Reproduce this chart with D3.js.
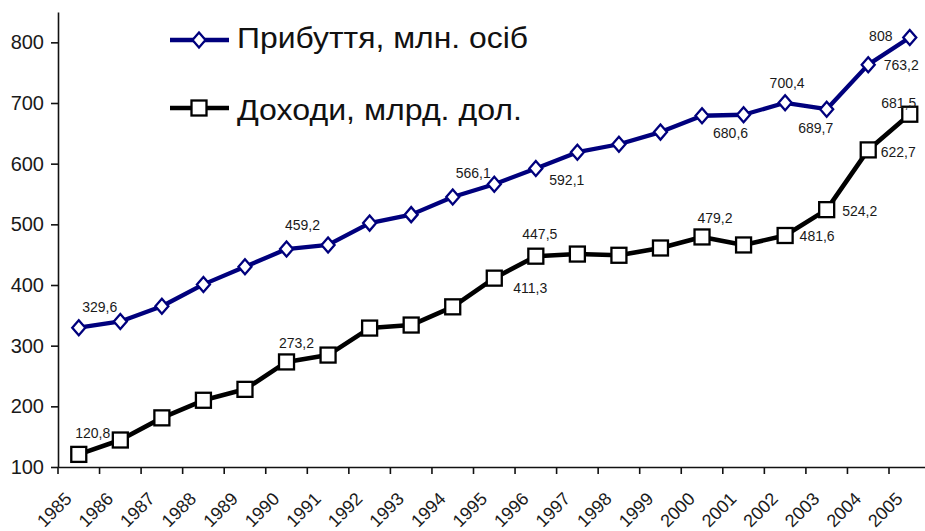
<!DOCTYPE html>
<html><head><meta charset="utf-8">
<script src="https://cdn.jsdelivr.net/npm/d3@7"></script>
<style>html,body{margin:0;padding:0;background:#fff;overflow:hidden}svg{display:block}</style>
</head><body>
<svg id="c" width="925" height="531"></svg>
<script>
const years = ["1985","1986","1987","1988","1989","1990","1991","1992","1993","1994","1995","1996","1997","1998","1999","2000","2001","2002","2003","2004","2005"];
const arrivals = [329.6,340,365,401,430,459.2,466,502,516,545,566.1,592.1,619,632,652,679,680.6,700.4,689.7,763.2,808];
const income = [120.8,144.5,181,210,228,273.2,284.5,329,334,364,411.3,447.5,451,449,461,479.2,466,481.6,524.2,622.7,681.5];
const yTicks = [100,200,300,400,500,600,700,800];
const seriesNames = ["Прибуття, млн. осіб","Доходи, млрд. дол."];
// which points carry a value label: [series index, year index]
const labelled = [[0,0],[0,5],[0,10],[0,11],[0,16],[0,17],[0,18],[0,19],[0,20],
                  [1,0],[1,5],[1,10],[1,11],[1,15],[1,17],[1,18],[1,19],[1,20]];
// label placement offsets (layout only): dx of centre, dy of baseline
const labelOffsets = [[21,-16],[16,-19],[-21,-6],[31,17],[-13,23],[2,-15],[-11,24],[33,5],[-29,4],
                      [14,-16],[10,-14],[36,15],[4,-17],[13,-14],[32,6],[33,6],[30,7],[-11,-6]];

const svg = d3.select("#c");
const x = d3.scaleBand().domain(years).range([58, 58 + 21*41.55]).padding(0);
const y = d3.scaleLinear().domain([100, 850]).range([467, 12]);
const cx = d => x(d) + x.bandwidth()/2;
const fmt = v => String(v).replace(".", ",");
const blue = "#00007d";
const FONT = "Liberation Sans, Arial, sans-serif";

// axes
const yAxis = svg.append("g").attr("transform","translate(58,0)")
  .call(d3.axisLeft(y).tickValues(yTicks).tickSize(7).tickSizeOuter(0).tickPadding(7));
yAxis.select(".domain").attr("stroke","#111").attr("stroke-width",1.6);
yAxis.selectAll(".tick line").attr("stroke","#111").attr("stroke-width",1.6);
yAxis.selectAll("text").attr("font-family",FONT).attr("font-size",20).attr("fill","#1a1a1a");

const xAxis = svg.append("g").attr("transform","translate(0,467)")
  .call(d3.axisBottom(x).tickSize(0).tickFormat(""));
xAxis.select(".domain").attr("stroke","#111").attr("stroke-width",1.6);
// tick marks at category boundaries
svg.append("g").selectAll("line").data(years).join("line")
  .attr("x1", d => x(d)).attr("x2", d => x(d))
  .attr("y1",467).attr("y2",474).attr("stroke","#111").attr("stroke-width",1.6);
svg.append("g").selectAll("text").data(years).join("text")
  .attr("transform", d => `translate(${cx(d)-6},${500}) rotate(-45)`)
  .attr("text-anchor","end")
  .attr("font-family",FONT).attr("font-size",18).attr("fill","#1a1a1a")
  .text(d => d);

// lines
const line = d3.line().x((d,i) => cx(years[i])).y(d => y(d));
svg.append("path").datum(income).attr("d", line).attr("fill","none").attr("stroke","#000").attr("stroke-width",4.6).attr("stroke-linejoin","round");
svg.append("path").datum(arrivals).attr("d", line).attr("fill","none").attr("stroke",blue).attr("stroke-width",4.3).attr("stroke-linejoin","round");

// markers
const diamond = (g, px, py) => g.append("path")
  .attr("d", `M${px},${py-7.5}L${px+6.5},${py}L${px},${py+7.5}L${px-6.5},${py}Z`)
  .attr("fill","#fff").attr("stroke",blue).attr("stroke-width",2.3);
const square = (g, px, py) => g.append("rect")
  .attr("x",px-7.5).attr("y",py-7.5).attr("width",15).attr("height",15)
  .attr("fill","#fff").attr("stroke","#000").attr("stroke-width",2.3);
const mk = svg.append("g");
income.forEach((v,i) => square(mk, cx(years[i]), y(v)));
arrivals.forEach((v,i) => diamond(mk, cx(years[i]), y(v)));

// value labels
const lab = svg.append("g").attr("font-family",FONT).attr("font-size",14).attr("fill","#1a1a1a").attr("text-anchor","middle");
labelled.forEach(([s,i],k) => {
  const v = s === 0 ? arrivals[i] : income[i];
  const [dx,dy] = labelOffsets[k];
  lab.append("text").attr("x", cx(years[i]) + dx).attr("y", y(v) + dy).text(fmt(v));
});

// legend
const lg = svg.append("g");
lg.append("line").attr("x1",170).attr("x2",229).attr("y1",40).attr("y2",40).attr("stroke",blue).attr("stroke-width",4.3);
diamond(lg, 199, 40);
lg.append("line").attr("x1",170).attr("x2",229).attr("y1",108).attr("y2",108).attr("stroke","#000").attr("stroke-width",4.6);
square(lg, 199, 108);
lg.selectAll("text").data(seriesNames).join("text")
  .attr("x",237).attr("y",(d,i) => i === 0 ? 48 : 120)
  .attr("font-family",FONT).attr("font-size",29).attr("fill","#111")
  .attr("textLength",(d,i) => i === 0 ? 291 : 285).attr("lengthAdjust","spacingAndGlyphs")
  .text(d => d);
</script>
</body></html>
